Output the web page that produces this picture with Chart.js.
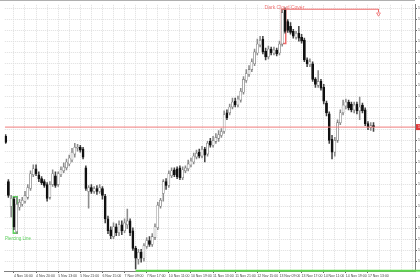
<!DOCTYPE html>
<html><head><meta charset="utf-8">
<script src="https://cdn.jsdelivr.net/npm/chart.js@4/dist/chart.umd.min.js"></script>
<style>html,body{margin:0;padding:0;background:#fff;overflow:hidden}canvas{display:block}</style>
</head><body>
<canvas id="c" width="420" height="280"></canvas>
<script>
// H1 candles, values in chart points (price axis labelled with priceLabels)
const opens = [138,92,67,74,41,66,69,72,76,85, 99,105,99,95,92,89,76,89,98,89, 99,103,106,110,114,120,126,127,125,106, 82,86,82,85,82,85,77,54,43,36, 46,40,48,42,48,52,42,24,13,20, 14,26,32,28,35,45,67,80,92,88, 98,104,105,106,96,103,105,109,112,117, 122,118,125,120,133,129,133,136,139,143, 162,162,168,174,170,175,183,195,201,206, 212,223,231,237,225,219,227,223,226,223, 232,267,255,250,245,239,243,239,236,216, 211,212,196,190,194,188,172,161,135,122, 134,152,162,169,173,171,165,171,164,170, 165,151,147,149];
const highs = [140,94,78,76,76,74,76,82,89,103, 109,109,102,97,94,91,92,104,102,102, 107,111,115,119,126,131,130,129,127,108, 88,89,87,88,89,87,79,57,46,50, 49,52,52,54,64,54,45,26,23,23, 29,35,36,39,49,71,75,94,95,103, 106,106,107,108,107,108,114,116,121,124, 125,128,127,133,136,138,141,144,146,164, 165,171,177,177,179,187,199,206,210,217, 227,237,240,240,228,230,229,229,228,235, 267,269,257,254,247,245,250,242,238,218, 217,214,198,205,196,191,174,163,139,137, 155,165,175,176,175,173,173,173,178,172, 167,153,152,152];
const lows = [131,76,56,43,39,63,67,70,74,83, 97,98,92,89,86,72,74,87,86,87, 97,101,104,108,112,117,123,122,115,83, 65,80,80,79,80,74,50,39,34,34, 37,37,38,40,44,37,22,3,8,10, 11,24,26,26,33,43,65,72,84,86, 96,97,95,94,94,101,103,107,110,115, 116,116,112,118,127,127,131,133,137,141, 155,160,166,168,168,173,181,193,199,204, 210,221,229,222,216,217,221,221,220,221, 230,243,244,242,238,237,235,233,214,209, 209,194,188,188,185,171,159,131,115,118, 132,150,160,166,165,163,162,161,155,162, 149,145,144,143];
const closes = [132,78,75,46,69,71,73,78,86,100, 105,100,95,91,88,75,89,100,88,100, 104,107,112,116,122,127,127,124,117,85, 86,82,85,82,86,78,54,42,37,46, 40,48,42,50,52,40,24,14,20,14, 27,32,28,36,46,68,73,92,88,100, 103,99,97,96,104,106,110,113,118,121, 118,125,119,131,129,134,137,140,143,160, 157,168,173,170,176,184,196,202,206,214, 224,232,236,224,219,227,223,226,222,232, 264,245,246,244,240,243,238,235,216,212, 214,196,191,194,187,174,162,134,122,134, 152,162,170,173,167,165,170,164,168,164, 151,148,149,148];

const timeLabels = ["4 Nov 16:00","4 Nov 20:00","5 Nov 13:00","5 Nov 21:00","6 Nov 15:00","7 Nov 09:00","7 Nov 17:00","10 Nov 11:00","10 Nov 19:00","11 Nov 13:00","11 Nov 21:00","12 Nov 15:00","13 Nov 09:00","13 Nov 17:00","14 Nov 11:00","14 Nov 19:00","17 Nov 13:00"];
const timeGridIdx = [3,7,11,15,19,23,27,31,35,39,43,47,51,55,59,63,67,71,75,79,83,87,91,95,99,103,107,111,115,119,123,127,131,135,139,143,147];
const priceTicks = [268.3,257.1,245.9,234.7,223.5,212.3,201.1,189.9,178.7,167.5,156.3,145.1,133.9,122.7,111.5,100.3,89.1,77.9,66.7,55.5,44.3,33.1,21.9,10.7];
const priceLabels = ["1.1680","1.1670","1.1660","1.1650","1.1640","1.1630","1.1620","1.1610","1.1600","1.1590","1.1580","1.1570","1.1560","1.1550","1.1540","1.1530","1.1520","1.1510","1.1500","1.1490","1.1480","1.1470","1.1460","1.1450"];

const bidLevel = 147.5, bidLabel = "1.1572";
const supportLevel = 1.3, supportFrom = 47, supportTo = 150;
const piercing = {name:"Piercing Line", x:3.45, range:[39,77], textX:4.5, textY:33};
const darkCloud = {name:"Dark Cloud Cover", x:100.5, range:[232,268], textX:100.8, textY:268.2, lineY:267.5, lineFrom:100.5, lineTo:134.8, arrowY:262.6};

const isUp = i => closes[i] >= opens[i];
const bodyData = opens.map((o,i)=>({x:i, y:[o, closes[i]]}));
const wickData = highs.map((h,i)=>({x:i, y:[lows[i], h]}));
const FONT = '"Liberation Sans", Arial, sans-serif';

const overlay = {
  id:'overlay',
  afterDraw(chart){
    const {ctx, chartArea, scales:{x,y}} = chart;
    ctx.save();
    ctx.strokeStyle = '#b0b0b0'; ctx.lineWidth = 1;
    ctx.beginPath(); ctx.moveTo(0,0.5); ctx.lineTo(chartArea.right,0.5); ctx.stroke();
    ctx.textAlign = 'center'; ctx.textBaseline = 'alphabetic';
    ctx.font = '5px ' + FONT; ctx.fillStyle = '#ef7373';
    ctx.fillText(darkCloud.name, x.getPixelForValue(darkCloud.textX), y.getPixelForValue(darkCloud.textY));
    ctx.font = '4.5px ' + FONT; ctx.fillStyle = '#5ccf5c';
    ctx.fillText(piercing.name, x.getPixelForValue(piercing.textX), y.getPixelForValue(piercing.textY));
    const yb = y.getPixelForValue(bidLevel);
    ctx.fillStyle = '#e03a3a'; ctx.fillRect(chartArea.right + 1, yb - 3, 12, 6);
    ctx.fillStyle = '#fff'; ctx.textAlign = 'left'; ctx.textBaseline = 'middle'; ctx.font = '3.5px ' + FONT;
    ctx.fillText(bidLabel, chartArea.right + 3, yb);
    ctx.restore();
  }
};

new Chart(document.getElementById('c'), {
  type:'bar',
  data:{ datasets:[
    {type:'line', data:[{x:-0.3,y:bidLevel},{x:148,y:bidLevel}], borderColor:'#ef7b7b', borderWidth:1, pointRadius:0, order:-2},
    {type:'line', data:[{x:supportFrom,y:supportLevel},{x:supportTo,y:supportLevel}], borderColor:'#5fd84f', borderWidth:2, pointRadius:0, clip:false, order:-2},
    {type:'line', data:[{x:darkCloud.lineFrom,y:darkCloud.lineY},{x:darkCloud.lineTo,y:darkCloud.lineY},{x:darkCloud.lineTo,y:darkCloud.arrowY+2}], borderColor:'#ef6a6a', borderWidth:1, pointRadius:0, order:-2},
    {type:'line', showLine:false, data:[{x:darkCloud.lineTo,y:darkCloud.arrowY}], pointStyle:'triangle', pointRotation:180, pointRadius:2.2, pointBackgroundColor:'#ffffff', pointBorderColor:'#ef6a6a', pointBorderWidth:0.8, order:-3},
    {type:'bar', data:bodyData, grouped:false, barThickness:2.1, minBarLength:1,
      backgroundColor:c=>isUp(c.dataIndex)?'#ffffff':'#111111',
      borderColor:c=>isUp(c.dataIndex)?'#747474':'#111111', borderWidth:0.6, borderSkipped:false, order:0},
    {type:'bar', data:wickData, grouped:false, barThickness:0.9,
      backgroundColor:c=>isUp(c.dataIndex)?'#8c8c8c':'#444444', order:1},
    {type:'bar', data:[{x:piercing.x,y:piercing.range}], grouped:false, barThickness:5, backgroundColor:'rgba(0,0,0,0)', borderColor:'#5ccf5c', borderWidth:1, borderSkipped:false, order:2},
    {type:'bar', data:[{x:darkCloud.x,y:darkCloud.range}], grouped:false, barThickness:5.5, backgroundColor:'rgba(0,0,0,0)', borderColor:'#ef6a6a', borderWidth:1, borderSkipped:false, order:2}
  ]},
  options:{
    responsive:false, animation:false, devicePixelRatio:1, events:[],
    layout:{padding:0},
    plugins:{legend:{display:false}, tooltip:{enabled:false}},
    scales:{
      x:{ type:'linear', position:'bottom', min:-0.3, max:148, offset:false, bounds:'data',
        afterBuildTicks:s=>{ s.ticks = timeGridIdx.map(v=>({value:v})); },
        afterFit:s=>{ s.height = 9; s.paddingLeft = 0; s.paddingRight = 0; },
        ticks:{ autoSkip:false, maxRotation:0, minRotation:0, align:'start', padding:0.5, color:'#444',
          font:{size:3.5, family:FONT},
          callback:(v,i)=> (i%2===0 && i/2 < timeLabels.length) ? timeLabels[i/2] : '' },
        grid:{ color:'#dedede', lineWidth:1, offset:false, drawTicks:true, tickLength:2,
          tickColor:c=> (c.index%2===0 && c.index/2 < timeLabels.length) ? '#666666' : 'rgba(0,0,0,0)' },
        border:{ display:true, color:'#808080', width:1, dash:[1,1] }
      },
      y:{ type:'linear', position:'right', min:1, max:272, beginAtZero:false, bounds:'data',
        afterBuildTicks:s=>{ s.ticks = priceTicks.map(v=>({value:v})); },
        afterFit:s=>{ s.width = 5; s.paddingTop = 0; s.paddingBottom = 0; },
        ticks:{ autoSkip:false, padding:1, color:'#444', font:{size:3.5, family:FONT},
          callback:(v,i)=> priceLabels[i] },
        grid:{ color:'#dedede', lineWidth:1, drawTicks:true, tickLength:2, tickColor:'#666666' },
        border:{ display:true, color:'#808080', width:1, dash:[1,1] }
      }
    }
  },
  plugins:[overlay]
});
</script>
</body></html>
